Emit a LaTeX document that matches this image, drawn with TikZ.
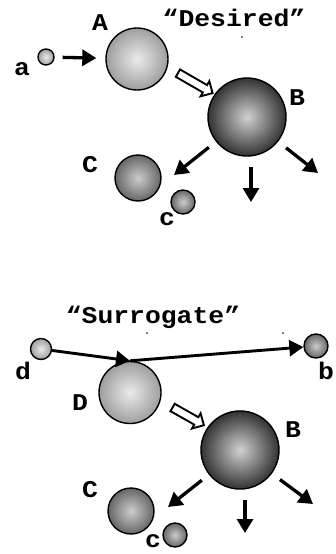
\documentclass[tikz,border=0pt]{standalone}
\usepackage{fontspec}
\setmonofont[FakeStretch=1.1]{Liberation Mono}
\usepackage{tikz}
\usetikzlibrary{arrows.meta,positioning,shapes.arrows,calc}
\tikzset{
    rxnball/.style={circle, draw, line width=1.4pt, inner sep=0pt, shading=radial},
    rxnlight/.style={rxnball, inner color=black!8, outer color=black!38},
    rxnmid/.style={rxnball, inner color=black!20, outer color=black!60},
    rxndark/.style={rxnball, inner color=black!18, outer color=black!80},
    rxnlabel/.style={font=\fontsize{24}{24}\selectfont\ttfamily\bfseries, inner sep=0pt},
    rxnarrow/.style={-{Triangle[length=14pt,width=16pt]}, line width=3.3pt},
    rxnhollow/.style={single arrow, draw, fill=white, line width=1.9pt, inner sep=3.3pt,
        single arrow head extend=4.5pt, single arrow head indent=0pt, sloped}
}

\begin{document}
\begin{tikzpicture}[x=1pt, y=-1pt]
    \useasboundingbox (0,0) rectangle (335,554);

    % "Desired"
    \node[rxnlight, minimum size=16pt] (a) at (46,57) {};
    \node[rxnlight, minimum size=62pt] (A) at (137,59) {};
    \node[rxndark, minimum size=78pt] (B) at (247,117) {};
    \node[rxnmid, minimum size=46pt] (C) at (138,178) {};
    \node[rxnmid, minimum size=24pt] (c) at (183,202) {};

    \node[rxnlabel] (la) at (22,69) {a};
    \node[rxnlabel] (lA) at (100,23) {A};
    \node[rxnlabel] (desired) at (234,18) {“Desired”};
    \node[rxnlabel] (lB) at (297,98) {B};
    \node[rxnlabel] (lC) at (90,165) {C};
    \node[rxnlabel] (lc) at (167,219) {c};
    \fill (242,37) circle[radius=0.9pt];

    \coordinate (tk1) at (174,175);
    \coordinate (tk2) at (251,202);
    \coordinate (tk3) at (318,173);

    \draw[rxnarrow, shorten <=8pt, shorten >=9pt] (a) -- (A);
    \path (A.-15) -- node[rxnhollow, pos=0.55, minimum height=40pt] (AB) {} (B.145);
    \draw[rxnarrow, shorten <=9pt] (B) -- (tk1);
    \draw[rxnarrow, shorten <=10pt] (B.south -| tk2) -- (tk2);
    \draw[rxnarrow, shorten <=10pt] (B) -- (tk3);

    % "Surrogate"
    \node[rxnlight, minimum size=21pt] (d) at (41,349) {};
    \node[rxnlight, minimum size=62pt] (D) at (130,392.5) {};
    \node[rxnmid, minimum size=24pt] (b) at (316,346) {};
    \node[rxndark, minimum size=78pt] (Bs) at (240,450) {};
    \node[rxnmid, minimum size=46pt] (Cs) at (131,511) {};
    \node[rxnmid, minimum size=24pt] (cs) at (175,535) {};

    \node[rxnlabel] (surrogate) at (153,317) {“Surrogate”};
    \node[rxnlabel] (ld) at (23,371) {d};
    \node[rxnlabel] (lb) at (326,371) {b};
    \node[rxnlabel] (lD) at (80,403) {D};
    \node[rxnlabel] (lBs) at (293,430) {B};
    \node[rxnlabel] (lCs) at (90,490) {C};
    \node[rxnlabel] (lcs) at (153,541) {c};
    \fill (147,333) circle[radius=0.9pt];
    \fill (283,333) circle[radius=0.9pt];

    \coordinate (tk4) at (168,507);
    \coordinate (tk5) at (245,533);
    \coordinate (tk6) at (313,504);

    \draw[rxnarrow, line width=2.9pt] (d) -- (D.north);
    \draw[rxnarrow, line width=2.9pt] (D.north) -- (b);
    \path (D.-15) -- node[rxnhollow, pos=0.55, minimum height=36pt] (DB) {} (Bs.145);
    \draw[rxnarrow, shorten <=9pt] (Bs) -- (tk4);
    \draw[rxnarrow, shorten <=10pt] (Bs.south -| tk5) -- (tk5);
    \draw[rxnarrow, shorten <=10pt] (Bs) -- (tk6);
\end{tikzpicture}
\end{document}
